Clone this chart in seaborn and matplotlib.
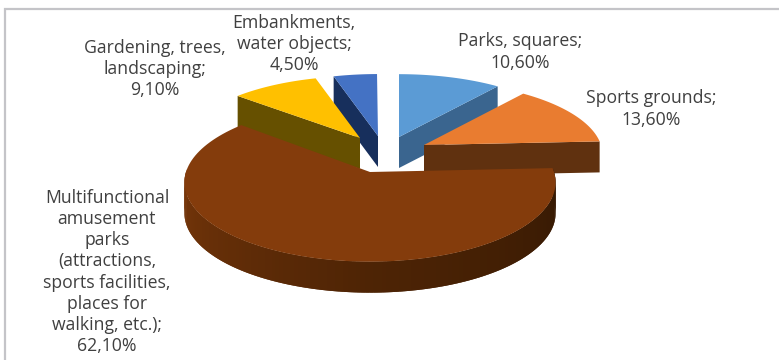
import numpy as np
import matplotlib
matplotlib.use("Agg")
import matplotlib.pyplot as plt
from matplotlib.colors import to_rgb
from matplotlib.patches import Polygon
import seaborn as sns

# Shares of the planned recreation objects, in percent
categories = ["Parks, squares", "Sports grounds",
              "Multifunctional amusement parks", "Gardening, trees, landscaping",
              "Embankments, water objects"]
shares = [10.6, 13.6, 62.1, 9.1, 4.5]
share_labels = ["Parks, squares;\n10,60%",
                "Sports grounds;\n13,60%",
                "Multifunctional\namusement\nparks\n(attractions,\nsports facilities,\nplaces for\nwalking, etc.);\n62,10%",
                "Gardening, trees,\nlandscaping;\n9,10%",
                "Embankments,\nwater objects;\n4,50%"]

top_colors = ["#5b9bd5", "#e97c30", "#843c0c", "#ffc000", "#4472c4"]
face_colors = ["#3a658f", "#60310f", None, "#665000", "#172f5c"]

# Exploded apex of each slice, in pixel space, and its projected radii
apexes = [(399, 137), (424, 145), (370, 172), (360, 138), (378, 136)]
radii = [(176, 71), (177, 72), (184, 78), (175, 70), (175, 70)]
label_pos = [(520, 52), (651, 109), (107, 272), (155, 69), (294, 44)]
PERSPECTIVE = 0.13
DEPTH = 31

sns.set_theme(style="white")
plt.rcParams["font.family"] = ["Open Sans", "DejaVu Sans"]

fig = plt.figure(figsize=(7.79, 3.6), dpi=100)
ax = fig.add_axes([0, 0, 1, 1])
ax.set_xlim(0, 779)
ax.set_ylim(360, 0)
ax.axis("off")


def rim(i, theta_deg):
    """Project rim points of slice i, angles clockwise from twelve o'clock."""
    t = np.radians(theta_deg)
    ax0, ay0 = apexes[i]
    rx, ry = radii[i]
    scale = 1 / (1 + PERSPECTIVE * np.cos(t))
    return ax0 + rx * np.sin(t) * scale, ay0 - ry * np.cos(t) * scale


edges = np.concatenate([[0], np.cumsum(shares)]) * 3.6


def draw_top(i, zorder):
    th = np.linspace(edges[i], edges[i + 1], 120)
    x, y = rim(i, th)
    pts = np.column_stack([np.r_[apexes[i][0], x], np.r_[apexes[i][1], y]])
    ax.add_patch(Polygon(pts, closed=True, fc=top_colors[i], ec="none", zorder=zorder))


def draw_cut_face(i, theta, zorder):
    x, y = rim(i, np.array([theta]))
    a, b = apexes[i]
    pts = [(a, b), (x[0], y[0]), (x[0], y[0] + DEPTH), (a, b + DEPTH)]
    ax.add_patch(Polygon(pts, closed=True, fc=face_colors[i], ec="none", zorder=zorder))


def draw_outer_wall(i, start, stop, zorder):
    # Shaded in narrow overlapping strips, dark on the right and lighter on the left
    th = np.linspace(start, stop, 160)
    x, y = rim(i, th)
    dark = np.array(to_rgb("#331803"))
    mid = np.array(to_rgb("#4e2405"))
    light = np.array(to_rgb("#7a380a"))
    for k in range(len(th) - 2):
        f = (th[k] - start) / (stop - start)
        col = dark + (mid - dark) * f * 2 if f < 0.5 else mid + (light - mid) * (f - 0.5) * 2
        pts = [(x[k], y[k]), (x[k + 2], y[k + 2]),
               (x[k + 2], y[k + 2] + DEPTH), (x[k], y[k] + DEPTH)]
        ax.add_patch(Polygon(pts, closed=True, fc=col, ec="none", zorder=zorder))


# Painted back to front so nearer slices cover the walls behind them
draw_cut_face(4, edges[4], 1)
draw_top(4, 2)
draw_cut_face(0, edges[1], 3)
draw_top(0, 4)
draw_cut_face(3, edges[3], 5)
draw_top(3, 6)
draw_cut_face(1, edges[2], 7)
draw_top(1, 8)
draw_outer_wall(2, edges[2], 272, 9)
draw_top(2, 10)

for text, (lx, ly) in zip(share_labels, label_pos):
    ax.text(lx, ly, text, ha="center", va="center", fontsize=12.7,
            color="#404040", linespacing=1.23, zorder=12)

# Chart frame: only the top and left borders fall inside the image
ax.plot([5.5, 5.5, 779], [360, 8.5, 8.5], color="#c4c4c8", lw=1.6,
        solid_joinstyle="miter", zorder=0)

fig.savefig("out.png", dpi=100, facecolor="white")
